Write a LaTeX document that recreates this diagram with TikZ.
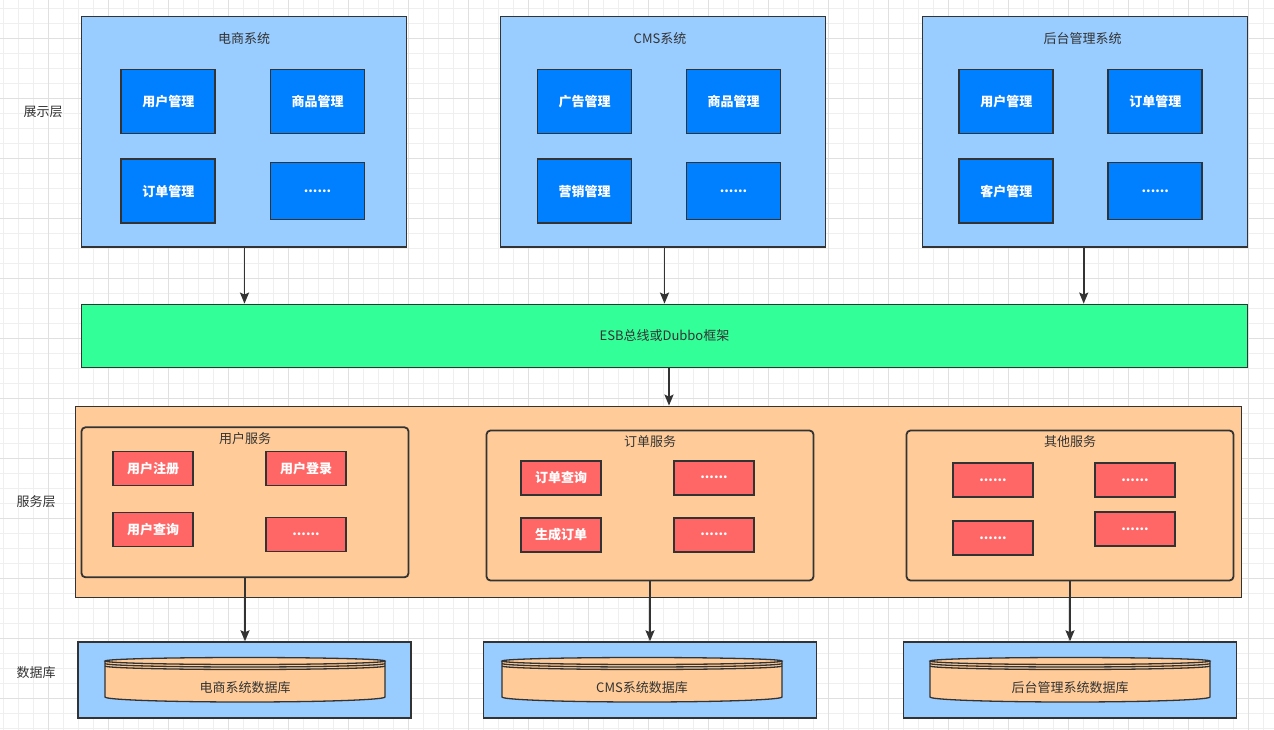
\documentclass[tikz,border=0pt]{standalone}
\usepackage{fontspec}
\setmainfont{Noto Sans CJK SC}
\usepackage{tikz}
\usetikzlibrary{arrows.meta,calc}
\definecolor{linec}{HTML}{333333}
\definecolor{skyfill}{HTML}{99CCFF}
\definecolor{modfill}{HTML}{007FFF}
\definecolor{busfill}{HTML}{33FF99}
\definecolor{peachfill}{HTML}{FFCC99}
\definecolor{redfill}{HTML}{FF6666}
\definecolor{gridminor}{HTML}{EFEFEF}
\definecolor{gridmajor}{HTML}{E0E0E0}
\tikzset{
	txt/.style={font=\fontsize{13}{15}\selectfont, text=linec, inner sep=0pt},
	sysbox/.style={draw=linec, line width=1.8pt, fill=skyfill, minimum width=325pt, minimum height=230.5pt, inner sep=0pt},
	modbox/.style={draw=linec, line width=1.8pt, fill=modfill, minimum width=94pt, minimum height=64pt, inner sep=0pt, text=white, font=\fontsize{13}{15}\selectfont\bfseries},
	busbox/.style={draw=linec, line width=1.8pt, fill=busfill, minimum width=1166pt, minimum height=63pt, txt},
	layerbox/.style={draw=linec, line width=1.8pt, fill=peachfill, minimum width=1166pt, minimum height=191pt, inner sep=0pt},
	svcbox/.style={draw=linec, line width=1.8pt, fill=peachfill, rounded corners=4pt, minimum width=327pt, minimum height=150pt, inner sep=0pt},
	funcbox/.style={draw=linec, line width=1.8pt, fill=redfill, minimum width=80pt, minimum height=34pt, inner sep=0pt, text=white, font=\fontsize{13}{15}\selectfont\bfseries},
	dbbox/.style={draw=linec, line width=1.8pt, fill=skyfill, minimum width=333pt, minimum height=76pt, inner sep=0pt},
	arr/.style={draw=linec, line width=1.8pt, -{Stealth[length=11pt,width=9pt,inset=2pt]}},
	disk/.style={draw=linec, line width=1.3pt, fill=peachfill},
}
\newcommand{\datadisk}[1]{%
	\filldraw[disk] ({#1-140},661) -- ({#1-140},697) arc[start angle=180, end angle=0, x radius=140, y radius=5] -- ({#1+140},661);
	\filldraw[disk] (#1,661) ellipse[x radius=140, y radius=3.5];
	\draw[disk, fill=none] ({#1-140},663.5) arc[start angle=180, end angle=0, x radius=140, y radius=3.5];
	\draw[disk, fill=none] ({#1-140},666) arc[start angle=180, end angle=0, x radius=140, y radius=3.5];
}

\begin{document}
\begin{tikzpicture}[x=1pt, y=-1pt]
	\useasboundingbox (0,0) rectangle (1274,730);
	\fill[white] (0,0) rectangle (1274,730);
	\foreach \i in {0,...,84} \draw[gridminor, line width=1pt] ({3.3+15*\i},0) -- ({3.3+15*\i},730);
	\foreach \i in {0,...,48} \draw[gridminor, line width=1pt] (0,{8.3+15*\i}) -- (1274,{8.3+15*\i});
	\foreach \i in {0,...,20} \draw[gridmajor, line width=1pt] ({48.3+60*\i},0) -- ({48.3+60*\i},730);
	\foreach \i in {0,...,11} \draw[gridmajor, line width=1pt] (0,{38.3+60*\i}) -- (1274,{38.3+60*\i});

	\node[txt] (lshow) at (43,112) {展示层};
	\node[txt] (lsvc) at (36,502) {服务层};
	\node[txt] (ldb) at (36,673) {数据库};

	\node[sysbox] (ds) at (244,131.8) {};
	\node[txt] (dstitle) at (244,38.5) {电商系统};
	\node[modbox] (ds1) at (168.3,101.5) {用户管理};
	\node[modbox] (ds2) at (317.5,101.5) {商品管理};
	\node[modbox] (ds3) at (168.3,191.3) {订单管理};
	\node[modbox, minimum height=57pt] (ds4) at (317.5,191) {......};

	\node[sysbox] (cms) at (663,131.8) {};
	\node[txt] (cmstitle) at (660,38.5) {CMS系统};
	\node[modbox] (cms1) at (584.5,101.5) {广告管理};
	\node[modbox] (cms2) at (733.5,101.5) {商品管理};
	\node[modbox] (cms3) at (584.5,191.3) {营销管理};
	\node[modbox, minimum height=57pt] (cms4) at (733.5,191) {......};

	\node[sysbox] (bg) at (1085,131.8) {};
	\node[txt] (bgtitle) at (1082.5,38.5) {后台管理系统};
	\node[modbox] (bg1) at (1006.3,101.5) {用户管理};
	\node[modbox] (bg2) at (1155.3,101.5) {订单管理};
	\node[modbox] (bg3) at (1006.3,191.3) {客户管理};
	\node[modbox, minimum height=57pt] (bg4) at (1155.3,191) {......};

	\node[busbox] (esb) at (664.5,336) {ESB总线或Dubbo框架};

	\node[layerbox] (svc) at (658.5,502) {};

	\node[svcbox] (us) at (245,502.3) {};
	\node[txt] (ustitle) at (245,438.3) {用户服务};
	\node[funcbox] (us1) at (153,468.4) {用户注册};
	\node[funcbox] (us2) at (306,468.4) {用户登录};
	\node[funcbox] (us3) at (153,529.4) {用户查询};
	\node[funcbox] (us4) at (306,534.4) {......};

	\node[svcbox] (os) at (650,505.5) {};
	\node[txt] (ostitle) at (650,442) {订单服务};
	\node[funcbox] (os1) at (561,477.7) {订单查询};
	\node[funcbox] (os2) at (714,477.7) {......};
	\node[funcbox] (os3) at (561,534.7) {生成订单};
	\node[funcbox] (os4) at (714,534.7) {......};

	\node[svcbox] (qs) at (1070,505.5) {};
	\node[txt] (qstitle) at (1070,442) {其他服务};
	\node[funcbox] (qs1) at (993,480.3) {......};
	\node[funcbox] (qs2) at (1135,480.3) {......};
	\node[funcbox] (qs3) at (993,538.3) {......};
	\node[funcbox] (qs4) at (1135,529.3) {......};

	\node[dbbox] (db1) at (244.8,680.2) {};
	\node[dbbox] (db2) at (650,680.2) {};
	\node[dbbox] (db3) at (1070,680.2) {};
	\datadisk{245}
	\datadisk{642}
	\datadisk{1070}
	\node[txt] (db1name) at (245,688) {电商系统数据库};
	\node[txt] (db2name) at (642,688) {CMS系统数据库};
	\node[txt] (db3name) at (1070,688) {后台管理系统数据库};

	\draw[arr] ([xshift=0.5]ds.south) -- ([xshift=0.5]ds.south |- esb.north);
	\draw[arr] ([xshift=1.5]cms.south) -- ([xshift=1.5]cms.south |- esb.north);
	\draw[arr] ([xshift=-1.3]bg.south) -- ([xshift=-1.3]bg.south |- esb.north);
	\draw[arr] ([xshift=4.5]esb.south) -- ([xshift=4.5]esb.south |- svc.north);
	\draw[arr] (us.south) -- (us.south |- db1.north);
	\draw[arr] (os.south) -- (os.south |- db2.north);
	\draw[arr] (qs.south) -- (qs.south |- db3.north);
\end{tikzpicture}
\end{document}
